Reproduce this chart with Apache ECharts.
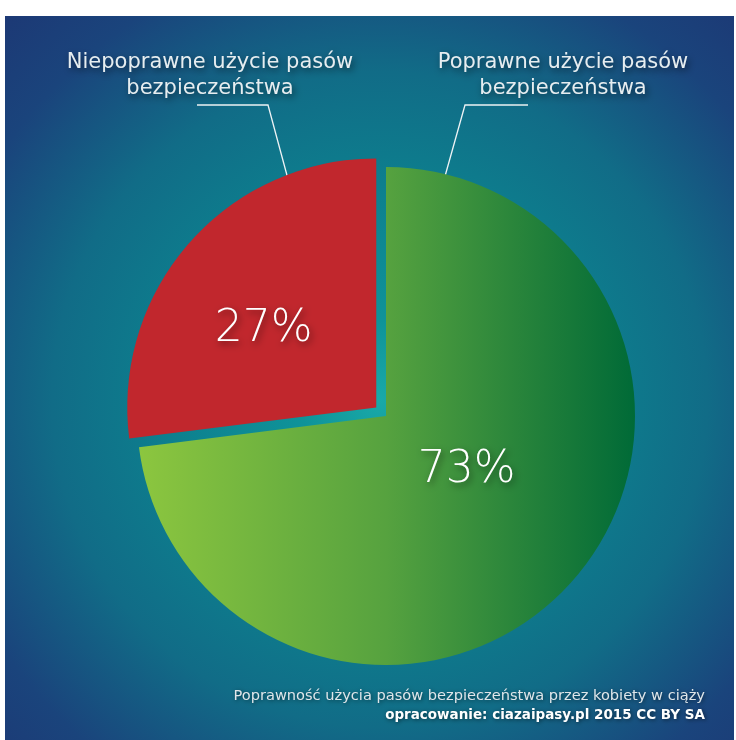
<!DOCTYPE html>
<html>
<head>
<meta charset="utf-8">
<script src="https://cdn.jsdelivr.net/npm/echarts@6/dist/echarts.min.js"></script>
<style>html,body{margin:0;padding:0;background:#fff;}#c{width:736px;height:740px;}</style>
</head>
<body>
<div id="c"></div>
<script>
const categories = ['Poprawne użycie pasów\nbezpieczeństwa', 'Niepoprawne użycie pasów\nbezpieczeństwa'];
const values = [73, 27];
const percentLabels = ['73%', '27%'];
const subtitleLines = ['Poprawność użycia pasów bezpieczeństwa przez kobiety w ciąży', 'opracowanie: ciazaipasy.pl 2015 CC BY SA'];

const chart = echarts.init(document.getElementById('c'));
const FONT = 'DejaVu Sans';
const shadow = { textShadowColor: 'rgba(0,0,0,0.55)', textShadowBlur: 7, textShadowOffsetX: 2, textShadowOffsetY: 3 };

const sliceColors = [
  { type: 'linear', x: 0, y: 0, x2: 1, y2: 0, colorStops: [
    { offset: 0, color: '#8cc63f' }, { offset: 0.5, color: '#56a23f' }, { offset: 1, color: '#006a37' } ] },
  '#c1272d'
];

const center = [386, 416];
const radius = 249;

// layout helpers for labels (positions only)
const pctOffsets = [[-15, -30], [-17, 6]];
const nameLayout = [
  { x: 563, y: 76, line: [[440, 194], [465, 105], [528, 105]] },
  { x: 210, y: 76, line: [[295, 205], [268, 105], [197, 105]] }
];

const mainData = categories.map((c, i) => ({
  name: c, value: values[i], selected: i === 1,
  itemStyle: { color: sliceColors[i] },
  label: { formatter: percentLabels[i] }
}));
const nameData = categories.map((c, i) => ({ name: c, value: values[i] }));

chart.setOption({
  animation: false,
  backgroundColor: '#ffffff',
  graphic: [{
    type: 'rect', z: -10, silent: true,
    shape: { x: 5, y: 16, width: 729, height: 724 },
    style: { fill: { type: 'radial', x: 0.514, y: 0.53, r: 0.78, colorStops: [
      { offset: 0, color: '#19a9a8' },
      { offset: 0.14, color: '#0f9399' },
      { offset: 0.38, color: '#0d7f8e' },
      { offset: 0.58, color: '#116c87' },
      { offset: 0.8, color: '#1a447c' },
      { offset: 1, color: '#1d3573' } ] } }
  }],
  title: [{
    text: subtitleLines[0], right: 26, top: 684,
    textStyle: { fontFamily: FONT, fontSize: 14.6, fontWeight: 'normal', color: '#dfe6ea', ...shadow, textShadowBlur: 4, textShadowOffsetX: 1, textShadowOffsetY: 1 }
  }, {
    text: subtitleLines[1], right: 26, top: 703,
    textStyle: { fontFamily: FONT, fontSize: 13.5, fontWeight: 'bold', color: '#ffffff', ...shadow, textShadowBlur: 4, textShadowOffsetX: 1, textShadowOffsetY: 1 }
  }],
  series: [{
    type: 'pie', center: center, radius: radius, startAngle: 90, clockwise: true,
    selectedMode: 'single', selectedOffset: 13, silent: true,
    emphasis: { disabled: true },
    label: { show: true, position: 'inside', fontFamily: FONT, fontSize: 44, fontWeight: 200, color: '#ffffff', ...shadow },
    labelLine: { show: false },
    labelLayout: function (p) { const o = pctOffsets[p.dataIndex]; return { dx: o[0], dy: o[1] }; },
    data: mainData
  }, {
    type: 'pie', center: center, radius: radius, startAngle: 90, clockwise: true, silent: true,
    emphasis: { disabled: true },
    itemStyle: { color: 'rgba(0,0,0,0)' },
    label: { show: true, position: 'outside', formatter: '{b}', overflow: 'none', width: 360, fontFamily: FONT, fontSize: 21, lineHeight: 26, align: 'center', color: '#e6edf0', ...shadow },
    labelLine: { show: true, lineStyle: { color: '#eef3f5', width: 1.3 } },
    labelLayout: function (p) {
      const l = nameLayout[p.dataIndex];
      return { x: l.x, y: l.y, width: 360, align: 'center', verticalAlign: 'middle', labelLinePoints: l.line };
    },
    data: nameData
  }]
});
</script>
</body>
</html>
